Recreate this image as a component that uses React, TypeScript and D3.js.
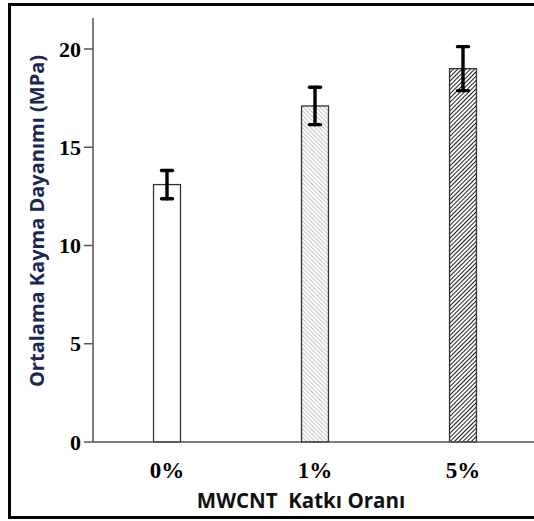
import React from "react";
import * as d3 from "d3";

const categories = ["0%", "1%", "5%"];
const means = [13.1, 17.1, 19.0];
const errors = [0.72, 0.95, 1.12];
const yTicks = [0, 5, 10, 15, 20];
const yTitle = "Ortalama Kayma Dayanımı (MPa)";
const xTitle = "MWCNT  Katkı Oranı";

const W = 534;
const H = 521;
const axisX = 93;
const baseY = 442;

export default function App() {
  const y = d3.scaleLinear().domain([0, 20]).range([baseY, 49]);
  const x = d3
    .scaleBand<string>()
    .domain(categories)
    .range([axisX, 537])
    .paddingInner(0.818)
    .paddingOuter(0.409);
  const bw = x.bandwidth();
  const fills = ["#ffffff", "url(#hatchLight)", "url(#hatchDark)"];

  return (
    <svg
      width={W}
      height={H}
      style={{ position: "absolute", left: 0, top: 0, background: "#fff" }}
    >
      <defs>
        <pattern id="hatchLight" patternUnits="userSpaceOnUse" width="3" height="3" patternTransform="rotate(-45)">
          <rect width="3" height="3" fill="#fff" />
          <line x1="0" y1="0" x2="0" y2="3" stroke="#8a8a8a" strokeWidth="1" />
        </pattern>
        <pattern id="hatchDark" patternUnits="userSpaceOnUse" width="3" height="3" patternTransform="rotate(45)">
          <rect width="3" height="3" fill="#fff" />
          <line x1="0" y1="0" x2="0" y2="3" stroke="#111" strokeWidth="1.9" />
        </pattern>
      </defs>

      {/* frame */}
      <rect x={9.5} y={4.5} width={W + 10} height={513} fill="none" stroke="#000" strokeWidth={3} />

      {/* y axis */}
      <line x1={axisX} x2={axisX} y1={18} y2={baseY} stroke="#555" strokeWidth={1.5} />
      {yTicks.map((t) => (
        <g key={t}>
          <line x1={axisX - 9} x2={axisX} y1={y(t)} y2={y(t)} stroke="#555" strokeWidth={1.5} />
          <text
            x={axisX - 12}
            y={y(t)}
            dy="0.35em"
            textAnchor="end"
            fontFamily="'Liberation Serif', serif"
            fontWeight="bold"
            fontSize={22}
            fill="#000"
          >
            {t}
          </text>
        </g>
      ))}

      {/* bars */}
      {categories.map((c, i) => (
        <rect
          key={c}
          x={x(c)!}
          y={y(means[i])}
          width={bw}
          height={baseY - y(means[i])}
          fill={fills[i]}
          stroke="#333"
          strokeWidth={1.3}
        />
      ))}

      {/* x axis */}
      <line x1={axisX} x2={W} y1={baseY} y2={baseY} stroke="#555" strokeWidth={1.5} />

      {/* error bars */}
      {categories.map((c, i) => {
        const cx = x(c)! + bw / 2;
        const top = y(means[i] + errors[i]);
        const bot = y(means[i] - errors[i]);
        return (
          <g key={c} stroke="#000" strokeWidth={3.4} strokeLinecap="round">
            <line x1={cx} x2={cx} y1={top} y2={bot} />
            <line x1={cx - 5.5} x2={cx + 5.5} y1={top} y2={top} />
            <line x1={cx - 5.5} x2={cx + 5.5} y1={bot} y2={bot} />
          </g>
        );
      })}

      {/* category labels */}
      {categories.map((c) => (
        <text
          key={c}
          x={x(c)! + bw / 2}
          y={478}
          textAnchor="middle"
          fontFamily="'Liberation Serif', serif"
          fontWeight="bold"
          fontSize={23}
          fill="#000"
        >
          {c}
        </text>
      ))}

      {/* axis titles */}
      <text
        x={301}
        y={508}
        textAnchor="middle"
        fontFamily="'Open Sans', 'Liberation Sans', sans-serif"
        fontWeight="bold"
        fontSize={20.5}
        fill="#111"
        style={{ whiteSpace: "pre" }}
      >
        {xTitle}
      </text>
      <text
        transform={`translate(44,${221}) rotate(-90)`}
        textAnchor="middle"
        fontFamily="'Open Sans', 'Liberation Sans', sans-serif"
        fontWeight="bold"
        fontSize={20}
        fill="#1b2655"
      >
        {yTitle}
      </text>
    </svg>
  );
}
